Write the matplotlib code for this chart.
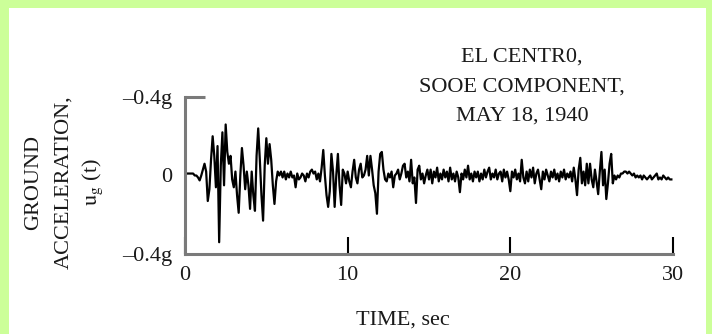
import numpy as np
import matplotlib.pyplot as plt
from matplotlib.patches import Rectangle

plt.rcParams['font.family'] = ['Liberation Serif', 'DejaVu Serif']
plt.rcParams['mathtext.fontset'] = 'stix'

# El Centro S00E ground acceleration (g), every 0.1 s
dt = 0.1
accel = [
    0.00, 0.01, 0.01, 0.01, 0.01, 0.01, 0.00, 0.00, -0.01, -0.025,
    0.00, 0.03, 0.06, 0.02, -0.13, -0.07, 0.08, 0.20, 0.10, -0.06,
    0.15, -0.34, 0.05, 0.22, -0.05, 0.26, 0.12, 0.06, 0.10, -0.02,
    -0.06, 0.02, -0.10, -0.19, 0.00, 0.14, 0.05, -0.07, 0.02, -0.05,
    -0.17, 0.02, -0.10, -0.18, 0.10, 0.24, 0.08, -0.10, -0.23, 0.05,
    0.19, 0.06, 0.16, 0.08, -0.05, -0.145, -0.03, 0.02, 0.00, 0.02,
    -0.01, 0.02, -0.02, 0.01, -0.01, 0.02, -0.01, 0.00, -0.06, 0.01,
    -0.02, -0.01, 0.01, 0.00, -0.03, 0.01, -0.01, 0.02, 0.03, 0.01,
    0.02, -0.02, 0.01, -0.03, 0.04, 0.13, 0.00, -0.10, -0.16, -0.08,
    0.11, 0.02, -0.16, 0.00, 0.11, -0.05, -0.15, 0.03, 0.01, -0.04,
    0.02, -0.03, -0.06, 0.02, 0.08, -0.01, -0.04, 0.03, 0.06, -0.01,
    0.00, 0.03, 0.10, 0.00, 0.10, 0.03, -0.05, -0.09, -0.195, 0.02,
    0.11, 0.12, 0.03, -0.02, -0.03, 0.01, -0.01, 0.02, -0.06, 0.00,
    0.01, 0.03, -0.02, 0.01, 0.05, 0.06, -0.01, 0.02, -0.03, 0.08,
    -0.04, -0.01, -0.14, 0.03, 0.05, -0.02, 0.01, -0.04, 0.00, 0.03,
    -0.02, 0.03, -0.04, 0.02, -0.01, 0.04, -0.03, 0.01, -0.02, 0.03,
    -0.01, 0.02, -0.03, 0.04, -0.02, 0.01, -0.03, 0.02, -0.01, -0.085,
    0.01, -0.02, 0.03, -0.01, 0.05, -0.02, 0.01, -0.03, 0.02, -0.01,
    0.02, -0.03, 0.01, -0.02, 0.03, -0.01, 0.02, 0.04, -0.02, 0.01,
    -0.01, 0.03, -0.02, 0.01, 0.02, -0.03, 0.03, -0.01, 0.02, -0.02,
    -0.08, 0.02, -0.01, 0.03, -0.02, 0.01, -0.03, 0.08, -0.01, -0.04,
    0.02, -0.03, 0.03, -0.01, 0.04, -0.04, 0.01, 0.03, -0.02, -0.07,
    0.02, -0.02, 0.03, 0.00, -0.03, 0.02, -0.01, 0.03, -0.02, 0.01,
    -0.03, 0.02, -0.01, 0.03, -0.02, 0.01, -0.01, 0.02, -0.03, 0.04,
    -0.02, -0.10, 0.03, 0.09, -0.04, 0.02, -0.05, 0.06, -0.04, 0.06,
    -0.02, -0.06, 0.03, -0.03, -0.095, 0.02, 0.12, -0.05, 0.03, -0.12,
    -0.04, 0.06, 0.11, -0.04, 0.00, -0.02, 0.00, -0.01, 0.01, 0.01,
    0.02, 0.02, 0.01, 0.02, 0.01, 0.00, 0.01, -0.01, 0.00, -0.01,
    0.00, -0.02, 0.00, -0.01, -0.02, -0.01, 0.00, -0.02, -0.01, 0.00,
    0.01, -0.02, -0.01, -0.02, 0.00, -0.01, -0.02, -0.01, -0.02, -0.02,
]
t = np.arange(len(accel)) * dt

xticks = [0, 10, 20, 30]
yticks = [-0.4, 0.0, 0.4]
ytick_labels = ['\u20130.4g', '0', '\u20130.4g']
title_lines = ['EL CENTR0,', 'SOOE COMPONENT,', 'MAY 18, 1940']
ylabel_lines = ['GROUND', 'ACCELERATION,', r'$\mathrm{u}_\mathrm{g}$ (t)']

W, H = 712, 334
fs = 16
txt = '#1a1a1a'
spine_c = '#7a7a7a'

fig = plt.figure(figsize=(W / 100, H / 100), dpi=100)
fig.patch.set_facecolor('#ccff99')
fig.add_artist(Rectangle((9 / W, 0), (706 - 9) / W, (H - 8) / H,
                         transform=fig.transFigure, facecolor='white',
                         edgecolor='none', zorder=-1))

ax = fig.add_axes([185 / W, 80 / H, 488 / W, 157 / H])
ax.patch.set_alpha(0)
ax.plot(t, accel, color='black', lw=1.6)
ax.set_xlim(0, 30)
ax.set_ylim(-0.4, 0.4)

for s in ['top', 'right']:
    ax.spines[s].set_visible(False)
for s in ['left', 'bottom']:
    ax.spines[s].set_color(spine_c)
    ax.spines[s].set_linewidth(2.2)

ax.set_xticks(xticks)
ax.set_xticklabels([str(v) for v in xticks])
ax.set_yticks(yticks)
ax.set_yticklabels(ytick_labels)
ax.tick_params(axis='x', direction='in', length=12, width=1.5, color='black',
               pad=9, labelsize=fs, labelcolor=txt)
ax.tick_params(axis='y', direction='in', length=0, pad=9.5,
               labelsize=fs, labelcolor=txt)
top = ax.yaxis.get_major_ticks()[2]
top.tick1line.set_markersize(14.5)
top.tick1line.set_markeredgewidth(2.2)
top.tick1line.set_markeredgecolor(spine_c)

fig.text(403 / W, 1 - 320 / H, 'TIME, sec', ha='center', va='center',
         fontsize=fs, color=txt)

for i, line in enumerate(title_lines):
    fig.text(522 / W, 1 - (57.5 + 29.3 * i) / H, line, ha='center',
             va='center', fontsize=fs, color=txt)

for i, line in enumerate(ylabel_lines):
    fig.text((34 + 29.5 * i) / W, 1 - 182 / H, line, ha='center',
             va='center', rotation=90, fontsize=fs, color=txt)

fig.savefig('out.png', dpi=100, facecolor=fig.get_facecolor())
